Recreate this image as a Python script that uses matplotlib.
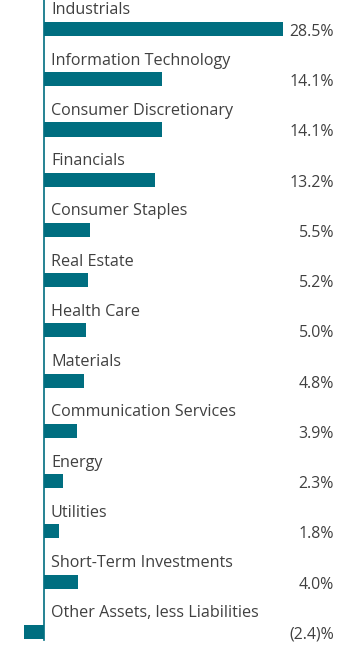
import matplotlib
matplotlib.use("Agg")
import matplotlib.pyplot as plt
import matplotlib.transforms as mtransforms

categories = ["Industrials", "Information Technology", "Consumer Discretionary",
              "Financials", "Consumer Staples", "Real Estate", "Health Care",
              "Materials", "Communication Services", "Energy", "Utilities",
              "Short-Term Investments", "Other Assets, less Liabilities"]
values = [28.5, 14.1, 14.1, 13.2, 5.5, 5.2, 5.0, 4.8, 3.9, 2.3, 1.8, 4.0, -2.4]
value_labels = ["28.5%", "14.1%", "14.1%", "13.2%", "5.5%", "5.2%", "5.0%",
                "4.8%", "3.9%", "2.3%", "1.8%", "4.0%", "(2.4)%"]

plt.rcParams['font.family'] = ['Open Sans', 'DejaVu Sans']
bar_color = "#006E80"
text_color = "#404040"

fig = plt.figure(figsize=(3.6, 6.47), dpi=100)
ax = fig.add_axes([0, 0, 1, 1])
ypos = list(range(len(categories)))
ax.barh(ypos, values, height=0.28, color=bar_color)
ax.set_xlim(-5.25, 37.68)
ax.set_ylim(12.30, -0.577)
ax.axis("off")
ax.plot([0, 0], [-0.577, 12.16], color=bar_color, lw=1.2)

tr = mtransforms.blended_transform_factory(ax.transAxes, ax.transData)
for i, (c, lab) in enumerate(zip(categories, value_labels)):
    ax.text(51/360, i - 0.37, c, transform=tr, ha="left", va="center",
            fontsize=11.6, color=text_color)
    ax.text(334/360, i + 0.06, lab, transform=tr, ha="right", va="center",
            fontsize=11.4, color=text_color)

fig.savefig("out.png", dpi=100)
